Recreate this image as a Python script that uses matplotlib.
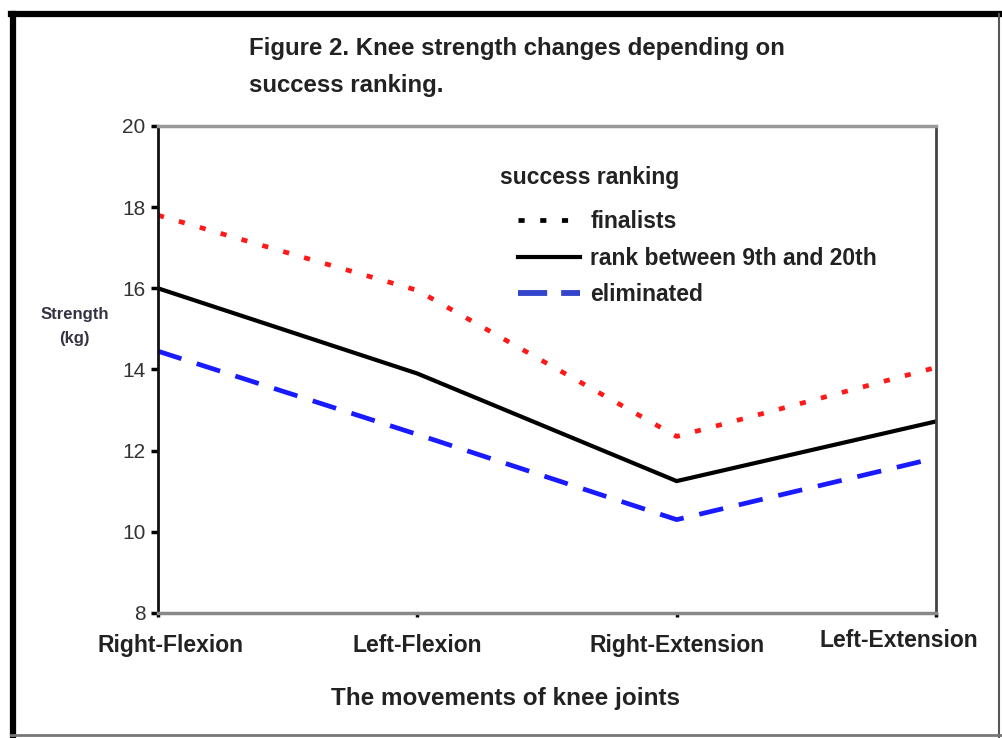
import matplotlib
matplotlib.use('Agg')
import matplotlib.pyplot as plt
from matplotlib.lines import Line2D
from matplotlib.transforms import ScaledTranslation

plt.rcParams['font.family'] = ['Liberation Sans', 'DejaVu Sans']

# data
movements = ['Right-Flexion', 'Left-Flexion', 'Right-Extension', 'Left-Extension']
finalists = [17.8, 15.95, 12.35, 14.05]
rank_9_20 = [16.0, 13.9, 11.25, 12.72]
eliminated = [14.45, 12.4, 10.3, 11.82]
y_ticks = [8, 10, 12, 14, 16, 18, 20]

fig = plt.figure(figsize=(10.02, 7.38), dpi=100)
ax = fig.add_axes([0.1577, 0.1694, 0.7764, 0.6599])

x = list(range(len(movements)))
ax.plot(x, finalists, color='#ff1a1a', lw=3.4, linestyle=(0, (1.3, 3.3)))
ax.plot(x, rank_9_20, color='black', lw=3.0, solid_joinstyle='miter')
ax.plot(x, eliminated, color='#1a1aff', lw=3.4, linestyle=(0, (5.2, 3.4)))

ax.set_xlim(0, 3)
ax.set_ylim(8, 20)
ax.set_yticks(y_ticks)
ax.set_xticks(x)
ax.set_xticklabels(movements, fontsize=16.5, fontweight='bold', color='#222222')
ax.tick_params(axis='x', direction='out', length=3, width=2.5, pad=12)
ax.tick_params(axis='y', direction='out', length=5, width=2.5, pad=4,
               labelsize=15, labelcolor='#333333')

# first and last labels sit shifted in the original
lbl = ax.get_xticklabels()[-1]
lbl.set_transform(lbl.get_transform() + ScaledTranslation(-0.37, 0.05, fig.dpi_scale_trans))
lbl0 = ax.get_xticklabels()[0]
lbl0.set_transform(lbl0.get_transform() + ScaledTranslation(0.12, 0, fig.dpi_scale_trans))

ax.spines['left'].set_color('#111111')
ax.spines['left'].set_linewidth(2.0)
ax.spines['bottom'].set_color('#888888')
ax.spines['bottom'].set_linewidth(2.5)
ax.spines['top'].set_color('#999999')
ax.spines['top'].set_linewidth(2.5)
ax.spines['right'].set_color('#444444')
ax.spines['right'].set_linewidth(2.0)

ax.set_xlabel('The movements of knee joints', fontsize=17.5, fontweight='bold',
              color='#222222')
ax.xaxis.set_label_coords(0.4465, -0.153)
fig.text(0.0745, 0.557, 'Strength\n(kg)', fontsize=12, fontweight='bold',
         color='#333344', ha='center', va='center', linespacing=1.75)

fig.text(0.249, 0.9095, 'Figure 2. Knee strength changes depending on\nsuccess ranking.',
         fontsize=17.3, fontweight='bold', color='#222222', ha='left', va='center',
         linespacing=1.75)

# legend title drawn on its own, it sits left of the handles
ax.text(0.4396, 0.895, 'success ranking', transform=ax.transAxes, fontsize=16.5,
        fontweight='bold', color='#222222', ha='left', va='center')

handles = [
    Line2D([], [], color='black', lw=3.4, linestyle=(0, (1.3, 3.3))),
    Line2D([], [], color='black', lw=3.0),
    Line2D([], [], color='#3344cc', lw=4.2, linestyle=(0, (5.0, 2.4))),
]
labels = ['finalists', 'rank between 9th and 20th', 'eliminated']
leg = ax.legend(handles, labels, loc='upper left', bbox_to_anchor=(0.4627, 0.8275),
                frameon=False, borderpad=0, borderaxespad=0,
                prop={'size': 16.5, 'weight': 'bold'}, handlelength=2.7,
                handletextpad=0.45, labelspacing=0.6)
for t in leg.get_texts():
    t.set_color('#222222')

# outer frame of the original image
fig.add_artist(Line2D([0.0125, 0.0125], [0.0, 0.981], color='black', lw=4.5,
                      transform=fig.transFigure))
fig.add_artist(Line2D([0.0105, 1.0], [0.981, 0.981], color='black', lw=4.5,
                      transform=fig.transFigure))
fig.add_artist(Line2D([0.997, 0.997], [0.0, 0.981], color='#555555', lw=1.5,
                      transform=fig.transFigure))
fig.add_artist(Line2D([0.0105, 1.0], [0.004, 0.004], color='#777777', lw=2.0,
                      transform=fig.transFigure))

fig.savefig('out.png', dpi=100)
